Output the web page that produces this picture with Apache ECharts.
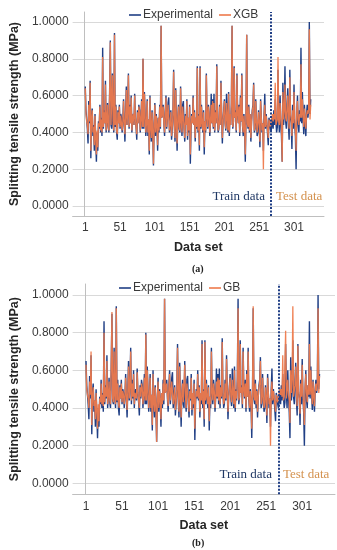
<!DOCTYPE html>
<html><head><meta charset="utf-8">
<script src="https://cdn.jsdelivr.net/npm/echarts@6/dist/echarts.min.js"></script>
<style>html,body{margin:0;padding:0;background:#fff}#c{width:337px;height:550px}</style>
</head><body><div id="c"></div>
<script>
// Experimental splitting tensile strength (MPa), data set index 1..325
const experimental = [
0.65,0.52,0.47,0.42,0.34,0.57,0.45,0.68,0.26,0.48,
0.53,0.38,0.44,0.30,0.50,0.36,0.24,0.40,0.30,0.46,
0.42,0.55,0.40,0.48,0.38,0.86,0.42,0.52,0.45,0.68,
0.40,0.46,0.56,0.43,0.40,0.62,0.90,0.44,0.42,0.72,
0.46,0.40,0.94,0.43,0.55,0.40,0.36,0.52,0.45,0.55,
0.42,0.50,0.48,0.40,0.46,0.58,0.45,0.35,0.50,0.65,
0.44,0.52,0.72,0.42,0.55,0.45,0.60,0.40,0.48,0.50,
0.44,0.61,0.48,0.43,0.36,0.52,0.45,0.55,0.52,0.40,
0.47,0.58,0.42,0.80,0.42,0.62,0.50,0.38,0.45,0.58,
0.38,0.47,0.28,0.60,0.42,0.35,0.52,0.40,0.22,0.45,
0.56,0.38,0.50,0.44,0.30,0.48,0.40,0.55,0.42,0.98,
0.48,0.50,0.55,0.45,0.38,0.52,0.60,0.42,0.48,0.56,
0.59,0.40,0.45,0.52,0.36,0.42,0.50,0.74,0.44,0.35,
0.64,0.45,0.30,0.48,0.55,0.42,0.40,0.65,0.46,0.38,
0.55,0.57,0.42,0.35,0.50,0.44,0.58,0.36,0.48,0.40,
0.55,0.23,0.42,0.50,0.45,0.60,0.44,0.52,0.35,0.48,
0.42,0.76,0.40,0.50,0.30,0.76,0.42,0.55,0.45,0.40,
0.52,0.28,0.46,0.40,0.72,0.48,0.42,0.55,0.50,0.38,
0.46,0.61,0.45,0.58,0.42,0.61,0.40,0.52,0.45,0.77,
0.48,0.40,0.42,0.55,0.44,0.68,0.50,0.34,0.46,0.52,
0.58,0.45,0.41,0.61,0.48,0.40,0.62,0.38,0.50,0.44,
0.56,0.98,0.42,0.46,0.76,0.48,0.52,0.40,0.72,0.50,
0.45,0.55,0.38,0.60,0.46,0.72,0.44,0.38,0.50,0.42,
0.24,0.48,0.93,0.45,0.42,0.55,0.40,0.50,0.35,0.46,
0.52,0.55,0.67,0.40,0.42,0.58,0.46,0.38,0.40,0.52,
0.44,0.32,0.58,0.48,0.40,0.45,0.30,0.50,0.61,0.42,
0.50,0.45,0.44,0.33,0.48,0.46,0.42,0.40,0.44,0.48,
0.42,0.52,0.44,0.58,0.46,0.40,0.43,0.74,0.48,0.40,
0.60,0.45,0.38,0.24,0.67,0.44,0.50,0.76,0.46,0.42,
0.55,0.64,0.44,0.36,0.74,0.48,0.45,0.31,0.55,0.42,
0.66,0.45,0.38,0.20,0.50,0.60,0.44,0.40,0.52,0.46,
0.86,0.45,0.62,0.48,0.39,0.55,0.44,0.38,0.50,0.55,
0.48,0.52,1.00,0.50,0.58
];
// XGB predictions
const xgbPred = [
0.64,0.50,0.46,0.44,0.39,0.55,0.46,0.67,0.30,0.47,
0.52,0.40,0.43,0.33,0.49,0.37,0.28,0.41,0.32,0.45,
0.43,0.54,0.41,0.47,0.40,0.81,0.43,0.51,0.45,0.66,
0.41,0.46,0.55,0.43,0.41,0.61,0.89,0.44,0.43,0.71,
0.46,0.41,0.93,0.44,0.54,0.41,0.39,0.51,0.45,0.54,
0.43,0.49,0.48,0.41,0.46,0.57,0.45,0.39,0.49,0.63,
0.44,0.51,0.71,0.43,0.54,0.45,0.59,0.41,0.48,0.50,
0.44,0.60,0.48,0.43,0.39,0.51,0.45,0.54,0.51,0.41,
0.47,0.57,0.43,0.80,0.43,0.61,0.49,0.40,0.45,0.57,
0.40,0.47,0.30,0.59,0.43,0.37,0.51,0.41,0.23,0.45,
0.55,0.40,0.49,0.44,0.33,0.48,0.41,0.54,0.43,0.98,
0.48,0.50,0.54,0.45,0.40,0.51,0.59,0.43,0.48,0.55,
0.55,0.41,0.45,0.51,0.38,0.43,0.50,0.73,0.44,0.37,
0.63,0.45,0.34,0.48,0.54,0.43,0.41,0.64,0.46,0.40,
0.54,0.53,0.43,0.37,0.49,0.44,0.57,0.38,0.48,0.41,
0.54,0.28,0.43,0.49,0.45,0.59,0.44,0.51,0.37,0.48,
0.43,0.75,0.41,0.49,0.33,0.75,0.43,0.54,0.45,0.41,
0.51,0.32,0.46,0.41,0.71,0.48,0.43,0.54,0.50,0.40,
0.46,0.55,0.45,0.57,0.43,0.56,0.41,0.51,0.45,0.76,
0.48,0.41,0.43,0.54,0.44,0.67,0.50,0.37,0.46,0.51,
0.57,0.45,0.42,0.56,0.48,0.41,0.61,0.40,0.50,0.44,
0.55,0.98,0.43,0.46,0.75,0.48,0.51,0.41,0.71,0.50,
0.45,0.54,0.40,0.59,0.46,0.71,0.44,0.40,0.49,0.43,
0.28,0.48,0.93,0.45,0.43,0.54,0.41,0.50,0.37,0.46,
0.51,0.54,0.66,0.41,0.43,0.57,0.46,0.40,0.41,0.51,
0.44,0.35,0.57,0.48,0.41,0.45,0.20,0.49,0.55,0.43,
0.49,0.45,0.44,0.37,0.47,0.46,0.43,0.45,0.46,0.50,
0.46,0.50,0.47,0.67,0.44,0.45,0.47,0.81,0.46,0.44,
0.56,0.48,0.43,0.24,0.62,0.47,0.52,0.66,0.48,0.46,
0.53,0.60,0.47,0.42,0.70,0.50,0.47,0.38,0.52,0.45,
0.62,0.48,0.42,0.30,0.52,0.57,0.47,0.44,0.50,0.48,
0.77,0.48,0.58,0.50,0.43,0.53,0.47,0.42,0.49,0.52,
0.50,0.52,0.96,0.47,0.55
];
// GB predictions
const gbPred = [
0.63,0.50,0.47,0.45,0.40,0.54,0.47,0.70,0.31,0.46,
0.51,0.41,0.44,0.34,0.48,0.39,0.29,0.42,0.33,0.45,
0.43,0.53,0.42,0.47,0.41,0.80,0.43,0.51,0.46,0.65,
0.42,0.46,0.54,0.44,0.42,0.63,0.91,0.45,0.43,0.70,
0.46,0.42,0.93,0.44,0.53,0.42,0.40,0.51,0.45,0.53,
0.43,0.49,0.47,0.42,0.46,0.56,0.46,0.39,0.49,0.62,
0.45,0.51,0.70,0.44,0.53,0.46,0.58,0.42,0.48,0.49,
0.45,0.59,0.48,0.44,0.40,0.51,0.46,0.53,0.51,0.42,
0.47,0.56,0.44,0.79,0.44,0.60,0.49,0.40,0.45,0.56,
0.40,0.47,0.31,0.58,0.43,0.38,0.51,0.42,0.22,0.45,
0.54,0.40,0.49,0.45,0.34,0.48,0.42,0.53,0.44,0.98,
0.48,0.50,0.53,0.46,0.41,0.51,0.58,0.44,0.48,0.54,
0.54,0.42,0.46,0.51,0.39,0.43,0.50,0.72,0.45,0.38,
0.62,0.46,0.35,0.48,0.53,0.43,0.42,0.63,0.46,0.40,
0.53,0.52,0.44,0.38,0.49,0.45,0.56,0.39,0.48,0.42,
0.53,0.29,0.44,0.49,0.46,0.58,0.45,0.51,0.38,0.48,
0.44,0.74,0.42,0.49,0.34,0.75,0.44,0.53,0.46,0.42,
0.51,0.33,0.46,0.42,0.70,0.48,0.44,0.53,0.49,0.40,
0.46,0.54,0.46,0.56,0.44,0.55,0.42,0.51,0.46,0.75,
0.48,0.42,0.44,0.53,0.45,0.66,0.50,0.38,0.46,0.51,
0.56,0.46,0.43,0.55,0.48,0.42,0.60,0.40,0.49,0.45,
0.54,0.93,0.44,0.46,0.74,0.48,0.51,0.42,0.70,0.49,
0.46,0.53,0.40,0.58,0.46,0.70,0.45,0.40,0.49,0.44,
0.29,0.48,0.94,0.46,0.44,0.53,0.42,0.49,0.38,0.46,
0.51,0.53,0.65,0.42,0.44,0.56,0.46,0.40,0.42,0.51,
0.45,0.36,0.56,0.48,0.42,0.45,0.20,0.49,0.54,0.44,
0.49,0.46,0.45,0.38,0.47,0.46,0.43,0.46,0.47,0.50,
0.47,0.50,0.46,0.68,0.44,0.46,0.46,0.81,0.45,0.45,
0.55,0.47,0.44,0.32,0.60,0.48,0.55,0.94,0.46,0.45,
0.52,0.62,0.48,0.41,0.73,0.49,0.48,0.37,0.53,0.46,
0.63,0.47,0.41,0.31,0.51,0.58,0.48,0.43,0.52,0.47,
0.74,0.47,0.60,0.49,0.42,0.54,0.46,0.41,0.50,0.53,
0.49,0.53,0.93,0.48,0.57
];
const xTickValues = [1, 51, 101, 151, 201, 251, 301];
const yTickValues = [0, 0.2, 0.4, 0.6, 0.8, 1.0];
const trainTestSplit = 268;
const panelModels = ['XGB', 'GB'];
const panelCaptions = ['(a)', '(b)'];

const NAVY = '#203f85', ORANGE = '#ee7a4c', GRID = '#d9d9d9', AXIS = '#bfbfbf', TXT = '#3a3a3a';
const SANS = '"Liberation Sans", Arial, sans-serif';
const SERIF = '"Liberation Serif", "Times New Roman", serif';

const pairs = arr => arr.map((v, i) => [i + 1, v]);

const grids = [
  {left: 66, top: 12, width: 258, height: 204},
  {left: 67, top: 284, width: 268, height: 210.3}
];
const xRanges = [[-17.2, 344.1], [-17.6, 346.5]];
const yRanges = [[-0.0543, 1.0543], [-0.0584, 1.0584]];

const xAxes = grids.map((g, i) => ({
  type: 'value', gridIndex: i, min: xRanges[i][0], max: xRanges[i][1],
  axisLine: {show: true, onZero: false, lineStyle: {color: AXIS, width: 1}},
  axisTick: {show: false, customValues: xTickValues},
  axisLabel: {customValues: xTickValues, fontFamily: SANS, fontSize: 12, color: TXT, margin: 6},
  splitLine: {show: false},
  name: 'Data set', nameLocation: 'middle', nameGap: 25,
  nameTextStyle: {fontFamily: SANS, fontSize: 12.5, fontWeight: 'bold', color: '#262626'}
}));
const yAxes = grids.map((g, i) => ({
  type: 'value', gridIndex: i, min: yRanges[i][0], max: yRanges[i][1],
  axisLine: {show: true, lineStyle: {color: AXIS, width: 1}},
  axisTick: {show: false, customValues: yTickValues},
  axisLabel: {customValues: yTickValues, formatter: v => v.toFixed(4), fontFamily: SANS, fontSize: 12, color: TXT, margin: 4},
  splitLine: {show: true, lineStyle: {color: GRID, width: 1}},
  name: 'Splitting tensile strength (MPa)', nameLocation: 'middle', nameGap: 47,
  nameTextStyle: {fontFamily: SANS, fontSize: 12.5, fontWeight: 'bold', color: '#262626'}
}));

const series = [];
panelModels.forEach((m, i) => {
  series.push({
    name: 'Experimental', type: 'line', xAxisIndex: i, yAxisIndex: i,
    data: pairs(experimental), showSymbol: false, symbol: 'none',
    lineStyle: {color: NAVY, width: 1.4}, itemStyle: {color: NAVY}, z: 2
  });
  series.push({
    name: m, type: 'line', xAxisIndex: i, yAxisIndex: i,
    data: pairs(i === 0 ? xgbPred : gbPred), showSymbol: false, symbol: 'none',
    lineStyle: {color: ORANGE, width: 1.3, opacity: 0.95}, itemStyle: {color: ORANGE}, z: 3,
    markLine: {
      silent: true, symbol: ['none', 'none'], animation: false,
      lineStyle: {color: NAVY, type: [2, 1.5], width: 2},
      label: {show: false},
      data: [{xAxis: trainTestSplit}]
    }
  });
});

const legends = panelModels.map((m, i) => ({
  data: ['Experimental', m], left: i === 0 ? 124 : 114, top: i === 0 ? 4 : 277,
  icon: 'rect', itemWidth: 12, itemHeight: 1.6, itemGap: 6,
  textStyle: {fontFamily: SANS, fontSize: 12, color: TXT, padding: [0, 0, 0, -3]}
}));

const annot = [
  {type: 'text', left: null, right: 337 - 265, top: 190, style: {text: 'Train data', font: '13px ' + SERIF, fill: '#203864'}},
  {type: 'text', left: 276, top: 190, style: {text: 'Test data', font: '13px ' + SERIF, fill: '#d4924f'}},
  {type: 'text', right: 337 - 272, top: 468, style: {text: 'Train data', font: '13px ' + SERIF, fill: '#203864'}},
  {type: 'text', left: 283, top: 468, style: {text: 'Test data', font: '13px ' + SERIF, fill: '#d4924f'}},
  {type: 'text', left: 192, top: 264, style: {text: panelCaptions[0], font: 'bold 10px ' + SERIF, fill: '#222'}},
  {type: 'text', left: 192, top: 538, style: {text: panelCaptions[1], font: 'bold 10px ' + SERIF, fill: '#222'}}
];

const chart = echarts.init(document.getElementById('c'), null, {renderer: 'canvas'});
chart.setOption({
  animation: false,
  backgroundColor: '#fff',
  grid: grids,
  xAxis: xAxes,
  yAxis: yAxes,
  legend: legends,
  series: series,
  graphic: annot
});
</script>
</body></html>
